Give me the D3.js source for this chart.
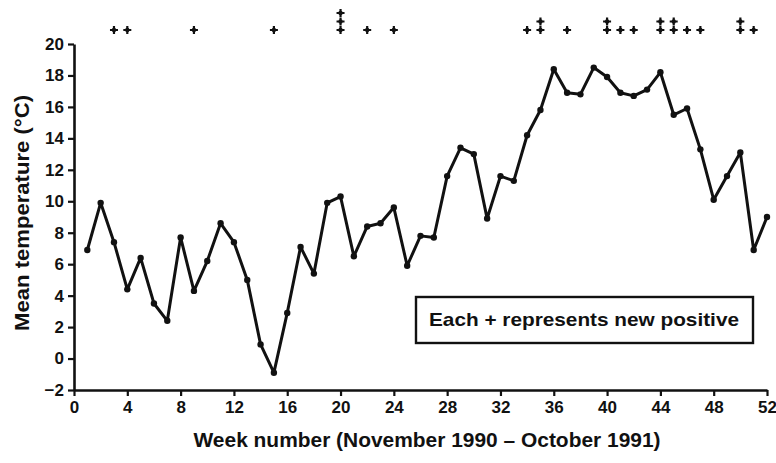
<!DOCTYPE html>
<html>
<head>
<meta charset="utf-8">
<script src="https://cdn.jsdelivr.net/npm/d3@7"></script>
<style>
  body { margin: 0; background: #fff; }
  text { font-family: 'Liberation Sans', Arial, sans-serif; font-weight: bold; fill: #111; }
</style>
</head>
<body>
<div id="chart"></div>
<script>
// weekly mean temperature
var weeks = d3.range(1, 53)
var meanTemp = [
  6.9, 9.9, 7.4, 4.4, 6.4, 3.5, 2.4, 7.7, 4.3, 6.2,
  8.6, 7.4, 5.0, 0.9, -0.9, 2.9, 7.1, 5.4, 9.9, 10.3,
  6.5, 8.4, 8.6, 9.6, 5.9, 7.8, 7.7, 11.6, 13.4, 13.0,
  8.9, 11.6, 11.3, 14.2, 15.8, 18.4, 16.9, 16.8, 18.5, 17.9,
  16.9, 16.7, 17.1, 18.2, 15.5, 15.9, 13.3, 10.1, 11.6, 13.1,
  6.9, 9.0
]

// new positives (week, number of +)
var positiveWeeks = [3, 4, 9, 15, 20, 22, 24, 34, 35, 37, 40, 41, 42, 44, 45, 46, 47, 50, 51]
var positiveCounts = [1, 1, 1, 1, 3, 1, 1, 1, 2, 1, 2, 1, 1, 2, 2, 1, 1, 2, 1]

var xTicks = d3.range(0, 53, 4)
var yTicks = d3.range(-2, 21, 2)

var margin = { top: 44, right: 9, bottom: 73, left: 74 }
var width = 776
var height = 463

var svg = d3
  .select('#chart')
  .append('svg')
  .attr('width', width)
  .attr('height', height)

var x = d3
  .scaleLinear()
  .domain([0, 52])
  .range([margin.left, width - margin.right])

var y = d3
  .scaleLinear()
  .domain([-2, 20])
  .range([height - margin.bottom, margin.top])

// axes
svg
  .append('g')
  .attr('transform', 'translate(0,' + y(-2) + ')')
  .call(d3.axisBottom(x).tickValues(xTicks).tickSize(6).tickSizeOuter(0).tickPadding(5))

svg
  .append('g')
  .attr('transform', 'translate(' + x(0) + ',0)')
  .call(
    d3.axisLeft(y)
      .tickValues(yTicks)
      .tickSize(6)
      .tickSizeOuter(0)
      .tickPadding(4)
      .tickFormat(d => (d < 0 ? '\u2212' + Math.abs(d) : d))
  )

svg.selectAll('.domain').attr('stroke', '#111').attr('stroke-width', 2.6)
svg.selectAll('.tick line').attr('stroke', '#111').attr('stroke-width', 2.2)
svg.selectAll('.tick text').style('font-size', '17px').attr('fill', '#111')

// titles
svg
  .append('text')
  .attr('x', 427)
  .attr('y', 447)
  .attr('text-anchor', 'middle')
  .attr('textLength', 467)
  .attr('lengthAdjust', 'spacingAndGlyphs')
  .style('font-size', '20px')
  .text('Week number (November 1990 \u2013 October 1991)')

svg
  .append('text')
  .attr('transform', 'translate(29,' + 213 + ') rotate(-90)')
  .attr('text-anchor', 'middle')
  .attr('textLength', 236)
  .attr('lengthAdjust', 'spacingAndGlyphs')
  .style('font-size', '20px')
  .text('Mean temperature (\u00b0C)')

// line
var line = d3
  .line()
  .x((d, i) => x(weeks[i]))
  .y(d => y(d))

svg
  .append('path')
  .datum(meanTemp)
  .attr('d', line)
  .attr('fill', 'none')
  .attr('stroke', '#111')
  .attr('stroke-width', 3)
  .attr('stroke-linejoin', 'round')

svg
  .selectAll('.pt')
  .data(meanTemp)
  .enter()
  .append('circle')
  .attr('class', 'pt')
  .attr('cx', (d, i) => x(weeks[i]))
  .attr('cy', d => y(d))
  .attr('r', 3.2)
  .attr('fill', '#111')

// plus markers
var plusData = []
positiveWeeks.forEach((w, i) => {
  for (var k = 0; k < positiveCounts[i]; k++) {
    plusData.push({ week: w, level: k })
  }
})

var plus = svg
  .selectAll('.plus')
  .data(plusData)
  .enter()
  .append('g')
  .attr('class', 'plus')
  .attr('transform', d => 'translate(' + x(d.week) + ',' + (30 - d.level * 8.5) + ')')

plus
  .append('path')
  .attr('d', 'M-4,0H4M0,-4V4')
  .attr('stroke', '#111')
  .attr('stroke-width', 2.2)
plus.append('circle').attr('r', 2.2).attr('fill', '#111')

// legend box
svg
  .append('rect')
  .attr('x', 416)
  .attr('y', 297)
  .attr('width', 337)
  .attr('height', 46)
  .attr('fill', '#fff')
  .attr('stroke', '#111')
  .attr('stroke-width', 2.4)

svg
  .append('text')
  .attr('x', 584)
  .attr('y', 326)
  .attr('text-anchor', 'middle')
  .attr('textLength', 310)
  .attr('lengthAdjust', 'spacingAndGlyphs')
  .style('font-size', '19px')
  .text('Each + represents new positive')
</script>
</body>
</html>
